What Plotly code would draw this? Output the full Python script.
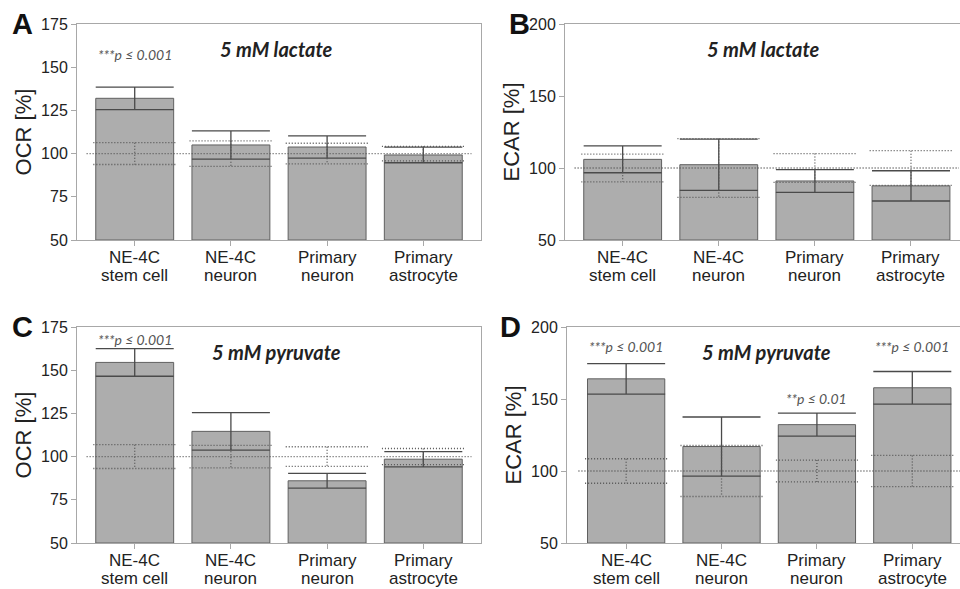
import plotly.graph_objects as go

# ---------------- data ----------------
cat_line1 = ["NE-4C", "NE-4C", "Primary", "Primary"]
cat_line2 = ["stem cell", "neuron", "neuron", "astrocyte"]
control_level = 100

ocr_lactate_mean = [132.0, 105.0, 103.8, 99.2]
ocr_lactate_sd = [6.5, 8.2, 6.4, 4.5]
ocr_lactate_ctrl_sd = [6.3, 7.4, 6.0, 4.2]

ecar_lactate_mean = [106.0, 102.3, 91.0, 87.6]
ecar_lactate_sd = [9.3, 17.8, 7.9, 10.5]
ecar_lactate_ctrl_sd = [9.6, 20.4, 10.0, 12.0]

ocr_pyruvate_mean = [154.5, 114.6, 86.0, 98.5]
ocr_pyruvate_sd = [8.0, 10.8, 4.3, 4.4]
ocr_pyruvate_ctrl_sd = [6.9, 6.5, 5.7, 4.7]

ecar_pyruvate_mean = [164.0, 117.0, 132.2, 157.8]
ecar_pyruvate_sd = [10.6, 20.5, 8.0, 11.3]
ecar_pyruvate_ctrl_sd = [8.5, 17.7, 7.6, 10.8]

panel_letters = ["A", "B", "C", "D"]
panel_titles = ["5 mM lactate", "5 mM lactate", "5 mM pyruvate", "5 mM pyruvate"]
y_titles = ["OCR [%]", "ECAR [%]", "OCR [%]", "ECAR [%]"]
y_ranges = [[50, 175], [50, 200], [50, 175], [50, 200]]
y_ticks = [[50, 75, 100, 125, 150, 175], [50, 100, 150, 200],
           [50, 75, 100, 125, 150, 175], [50, 100, 150, 200]]

# significance labels
sig_panel = [0, 2, 3, 3, 3]
sig_cat = [0, 0, 0, 2, 3]
sig_text = ["***p ≤ 0.001", "***p ≤ 0.001", "***p ≤ 0.001", "**p ≤ 0.01", "***p ≤ 0.001"]
sig_y = [157.5, 167.5, 186.5, 150.5, 186.5]

panels = [
    (ocr_lactate_mean, ocr_lactate_sd, ocr_lactate_ctrl_sd),
    (ecar_lactate_mean, ecar_lactate_sd, ecar_lactate_ctrl_sd),
    (ocr_pyruvate_mean, ocr_pyruvate_sd, ocr_pyruvate_ctrl_sd),
    (ecar_pyruvate_mean, ecar_pyruvate_sd, ecar_pyruvate_ctrl_sd),
]

# ---------------- layout geometry ----------------
W, H = 960, 589
x_domains = [[77 / W, 481 / W], [565 / W, 1.0], [77 / W, 481 / W], [567 / W, 1.0]]
y_domains = [[1 - 240 / H, 1 - 24 / H], [1 - 240 / H, 1 - 24 / H],
             [1 - 543 / H, 1 - 327 / H], [1 - 543 / H, 1 - 327 / H]]
x_ranges = [[-0.6, 3.6], [-0.6, 3.51], [-0.6, 3.6], [-0.62, 3.5]]

BAR_W = 0.81
CTRL_HW = 0.43
bar_fill = "#adadad"
bar_line = "#606060"
err_col = "#4a4a4a"
dot_col = "#555555"
axis_col = "#a8a8a8"
DOT = "1px,2px"

fig = go.Figure()
xpos = list(range(len(cat_line1)))

for i, (mean, sd, csd) in enumerate(panels):
    xa = "x" if i == 0 else f"x{i+1}"
    ya = "y" if i == 0 else f"y{i+1}"
    fig.add_trace(go.Bar(
        x=xpos, y=[m - y_ranges[i][0] for m in mean], base=y_ranges[i][0],
        width=BAR_W, marker=dict(color=bar_fill, line=dict(color=bar_line, width=1)),
        error_y=dict(type="data", array=sd, symmetric=True, color=err_col,
                     thickness=1.3, width=39),
        xaxis=xa, yaxis=ya, showlegend=False, hoverinfo="skip"))
    # control baseline
    fig.add_trace(go.Scatter(
        x=[-0.5, len(xpos) - 0.5], y=[control_level, control_level],
        mode="lines", line=dict(color=dot_col, width=1.3, dash=DOT),
        xaxis=xa, yaxis=ya, showlegend=False, hoverinfo="skip"))
    # control error bars (dotted)
    cx, cy = [], []
    for k, s in enumerate(csd):
        top = control_level + s
        bot = control_level - s
        cx += [k - CTRL_HW, k + CTRL_HW, None, k, k, None, k - CTRL_HW, k + CTRL_HW, None]
        cy += [top, top, None, top, bot, None, bot, bot, None]
    fig.add_trace(go.Scatter(
        x=cx, y=cy, mode="lines", line=dict(color=dot_col, width=1.3, dash=DOT),
        xaxis=xa, yaxis=ya, showlegend=False, hoverinfo="skip", connectgaps=False))

axis_common = dict(showline=True, linecolor=axis_col, linewidth=1, mirror=True,
                   showgrid=False, zeroline=False, ticks="outside", tickcolor=axis_col,
                   ticklen=5, automargin=False)

layout = dict(width=W, height=H, margin=dict(l=0, r=0, t=0, b=0),
              plot_bgcolor="white", paper_bgcolor="white", bargap=0.19,
              font=dict(family="Liberation Sans, Arial, sans-serif", color="#222222"))
for i in range(4):
    sfx = "" if i == 0 else str(i + 1)
    xa = "x" if i == 0 else f"x{i+1}"
    ya = "y" if i == 0 else f"y{i+1}"
    layout["xaxis" + sfx] = dict(axis_common, domain=x_domains[i], range=x_ranges[i],
                                 anchor=ya, tickvals=xpos, showticklabels=False)
    layout["yaxis" + sfx] = dict(axis_common, domain=y_domains[i], range=y_ranges[i],
                                 anchor=xa, tickvals=y_ticks[i], tickfont=dict(size=16),
                                 title=dict(text=y_titles[i], font=dict(size=22), standoff=3))
fig.update_layout(**layout)

annotations = []
label_font = dict(size=17, color="#222222", family="Liberation Sans, Arial, sans-serif")
letter_xy = [(22, 24), (519, 24), (22, 327), (510, 327)]
for i in range(4):
    xa = "x" if i == 0 else f"x{i+1}"
    ya = "y" if i == 0 else f"y{i+1}"
    lx, ly = letter_xy[i]
    annotations.append(dict(text=f"<b>{panel_letters[i]}</b>", xref="paper", yref="paper",
                            x=lx / W, y=1 - ly / H, showarrow=False,
                            xanchor="center", yanchor="middle",
                            font=dict(size=29, color="#111111",
                                      family="Liberation Sans, Arial, sans-serif")))
    title_y = y_ranges[i][0] + (y_ranges[i][1] - y_ranges[i][0]) * 0.882
    annotations.append(dict(text=f"<b><i>{panel_titles[i]}</i></b>", xref=xa, yref=ya,
                            x=1.47, y=title_y, showarrow=False,
                            font=dict(size=20, color="#222222", family="Lato, sans-serif")))
    # category labels (two lines, tight spacing like the reference)
    for k in xpos:
        annotations.append(dict(text=cat_line1[k], xref=xa, yref=f"{ya} domain",
                                x=k, y=0, yshift=-17, showarrow=False,
                                xanchor="center", yanchor="middle", font=label_font))
        annotations.append(dict(text=cat_line2[k], xref=xa, yref=f"{ya} domain",
                                x=k, y=0, yshift=-35, showarrow=False,
                                xanchor="center", yanchor="middle", font=label_font))
for p, c, t, yv in zip(sig_panel, sig_cat, sig_text, sig_y):
    xa = "x" if p == 0 else f"x{p+1}"
    ya = "y" if p == 0 else f"y{p+1}"
    annotations.append(dict(text=f"<i>{t}</i>", xref=xa, yref=ya, x=c, y=yv,
                            showarrow=False,
                            font=dict(size=14, color="#555555", family="Lato, sans-serif")))
fig.update_layout(annotations=annotations)

fig.write_html("out.html", config={"displayModeBar": False},
               post_script="document.body.style.margin='0';document.body.style.padding='0';")
